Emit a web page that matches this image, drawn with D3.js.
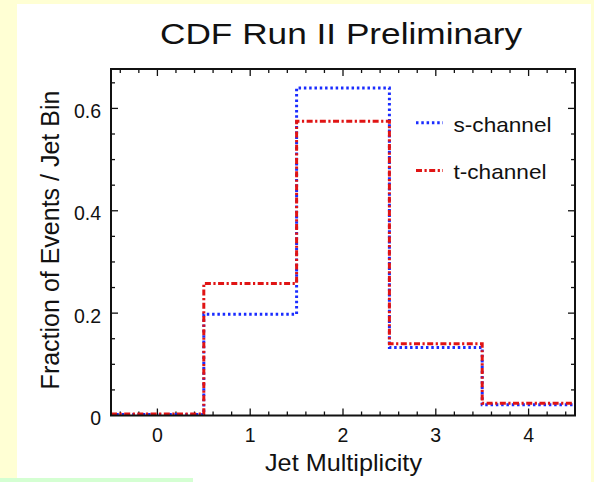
<!DOCTYPE html>
<html>
<head>
<meta charset="utf-8">
<script src="https://cdn.jsdelivr.net/npm/d3@7/dist/d3.min.js"></script>
<style>
  html, body { margin: 0; padding: 0; background: #ffffd4; }
  svg { display: block; }
  text { font-family: "Liberation Sans", Arial, Helvetica, sans-serif; fill: #111; }
</style>
</head>
<body>
<svg id="chart" width="594" height="482"></svg>
<script>
// Jet multiplicity bins and normalised fractions per bin
const jetBins = [0, 1, 2, 3, 4];
const sChannel = [0.002, 0.198, 0.640, 0.133, 0.021];
const tChannel = [0.003, 0.258, 0.575, 0.140, 0.024];

const xTickValues = [0, 1, 2, 3, 4];
const yTickValues = [0, 0.2, 0.4, 0.6];
const yTickLabels = ["0", "0.2", "0.4", "0.6"];

const titleText = "CDF Run II Preliminary";
const xLabel = "Jet Multiplicity";
const yLabel = "Fraction of Events / Jet Bin";
const seriesNames = ["s-channel", "t-channel"];

const W = 594, H = 482;
const plot = { left: 111, right: 575, top: 69, bottom: 415.5 };

const svg = d3.select("#chart");

// page panels
svg.append("rect").attr("x", 0).attr("y", 0).attr("width", W).attr("height", H).attr("fill", "#ffffd4");
svg.append("rect").attr("x", 17).attr("y", 4).attr("width", 574).attr("height", H - 4).attr("fill", "#ffffff");
svg.append("rect").attr("x", 0).attr("y", 478).attr("width", 193).attr("height", 4).attr("fill", "#d4ffd2");

const x = d3.scaleLinear().domain([-0.5, 4.5]).range([plot.left, plot.right]);
const y = d3.scaleLinear().domain([0, 0.677]).range([plot.bottom, plot.top]);

// ticks (all drawn pointing into the frame)
const g = svg.append("g");
const xMinor = d3.range(-0.4, 4.5, 0.2).map(v => +v.toFixed(2));
const yMinor = d3.range(0.05, 0.68, 0.05).map(v => +v.toFixed(2));

function isMajorX(v) { return Math.abs(v - Math.round(v)) < 1e-6; }
function isMajorY(v) { return Math.abs(v * 5 - Math.round(v * 5)) < 1e-6; }

xMinor.forEach(v => {
  const len = isMajorX(v) ? 7 : 4;
  g.append("line").attr("x1", x(v)).attr("x2", x(v)).attr("y1", plot.bottom).attr("y2", plot.bottom - len)
    .attr("stroke", "#111").attr("stroke-width", 1.3);
  g.append("line").attr("x1", x(v)).attr("x2", x(v)).attr("y1", plot.top).attr("y2", plot.top + len)
    .attr("stroke", "#111").attr("stroke-width", 1.3);
});
yMinor.forEach(v => {
  const len = isMajorY(v) ? 7 : 4;
  g.append("line").attr("x1", plot.left).attr("x2", plot.left + len).attr("y1", y(v)).attr("y2", y(v))
    .attr("stroke", "#111").attr("stroke-width", 1.3);
  g.append("line").attr("x1", plot.right).attr("x2", plot.right - len).attr("y1", y(v)).attr("y2", y(v))
    .attr("stroke", "#111").attr("stroke-width", 1.3);
});

// tick labels
svg.append("g").selectAll("text").data(xTickValues).join("text")
  .attr("x", d => x(d)).attr("y", 441.5)
  .attr("text-anchor", "middle").attr("font-size", 19.5)
  .text(d => d);
svg.append("g").selectAll("text").data(yTickValues).join("text")
  .attr("x", 101).attr("y", d => y(d) + 9.5)
  .attr("text-anchor", "end").attr("font-size", 19.5)
  .text((d, i) => yTickLabels[i]);

// histograms
const clip = svg.append("clipPath").attr("id", "plotclip");
clip.append("rect").attr("x", plot.left).attr("y", plot.top)
  .attr("width", plot.right - plot.left).attr("height", plot.bottom - plot.top);

function stepPoints(vals) {
  const pts = jetBins.map((b, i) => [b - 0.5, vals[i]]);
  pts.push([jetBins[jetBins.length - 1] + 0.5, vals[vals.length - 1]]);
  return pts;
}
const step = d3.line().x(d => x(d[0])).y(d => y(d[1])).curve(d3.curveStepAfter);

const hist = svg.append("g").attr("clip-path", "url(#plotclip)");
hist.append("path").attr("d", step(stepPoints(sChannel)))
  .attr("fill", "none").attr("stroke", "#1a2cff").attr("stroke-width", 3)
  .attr("stroke-dasharray", "2.5,2.8");
hist.append("path").attr("d", step(stepPoints(tChannel)))
  .attr("fill", "none").attr("stroke", "#e01414").attr("stroke-width", 3)
  .attr("stroke-dasharray", "6,2.5,2.2,2.5");

// frame
svg.append("rect").attr("x", plot.left).attr("y", plot.top)
  .attr("width", plot.right - plot.left).attr("height", plot.bottom - plot.top)
  .attr("fill", "none").attr("stroke", "#111").attr("stroke-width", 2);

// legend
const legend = svg.append("g");
const legendRows = [
  { name: seriesNames[0], y: 122.7, color: "#1a2cff", dash: "2.5,2.8", len: 98 },
  { name: seriesNames[1], y: 170.5, color: "#e01414", dash: "6,2.5,2.2,2.5", len: 93 }
];
legendRows.forEach(r => {
  legend.append("line").attr("x1", 416).attr("x2", 443).attr("y1", r.y).attr("y2", r.y)
    .attr("stroke", r.color).attr("stroke-width", 3).attr("stroke-dasharray", r.dash);
  legend.append("text").attr("x", 453.5).attr("y", r.y + 8.8)
    .attr("font-size", 21).attr("textLength", r.len).attr("lengthAdjust", "spacingAndGlyphs")
    .text(r.name);
});

// titles
svg.append("text").attr("x", 160).attr("y", 44.3)
  .attr("font-size", 29.5).attr("textLength", 362).attr("lengthAdjust", "spacingAndGlyphs")
  .text(titleText);
svg.append("text").attr("x", 265).attr("y", 470.7)
  .attr("font-size", 24.5).attr("textLength", 157).attr("lengthAdjust", "spacingAndGlyphs")
  .text(xLabel);
svg.append("text").attr("transform", "translate(59,240) rotate(-90)")
  .attr("text-anchor", "middle").attr("font-size", 25)
  .text(yLabel);
</script>
</body>
</html>
